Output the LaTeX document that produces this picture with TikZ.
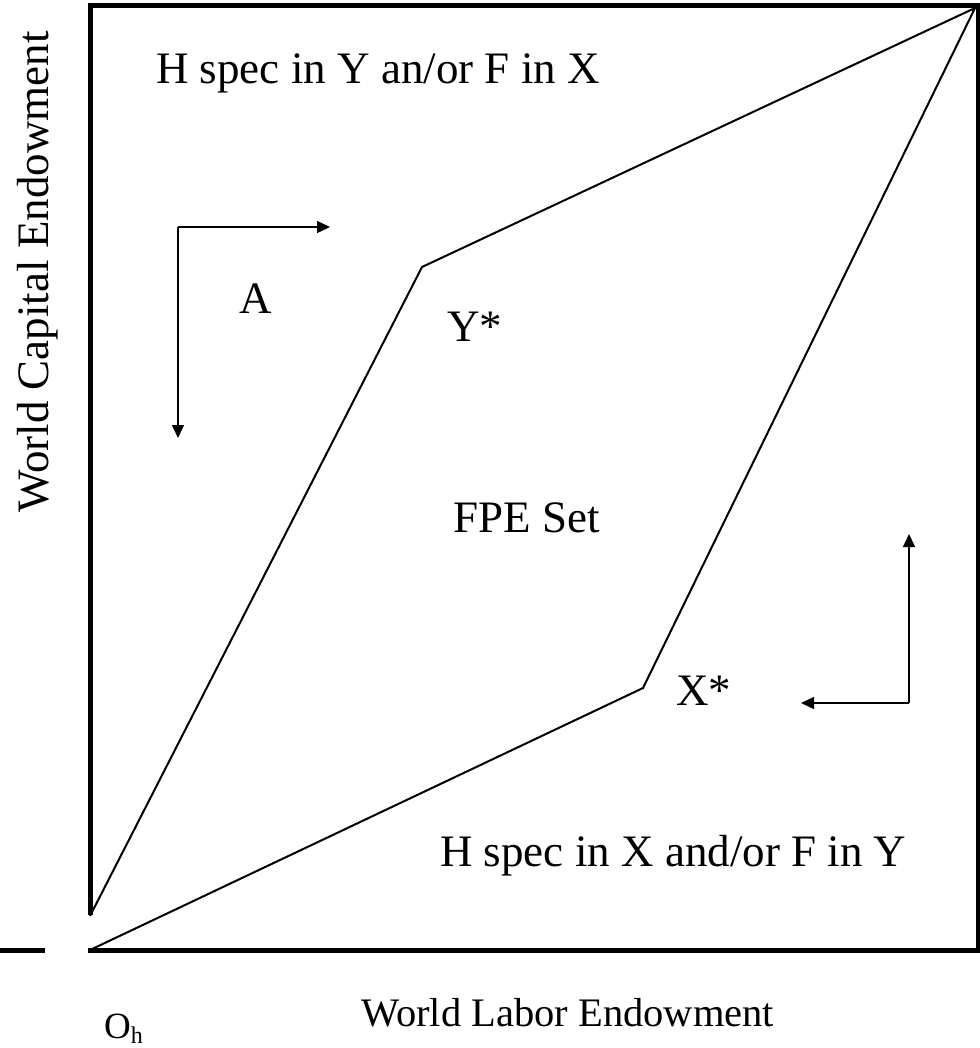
\documentclass[tikz,border=0pt]{standalone}
\usepackage{fontspec}
\setmainfont{Liberation Serif}
\usetikzlibrary{arrows.meta}
\begin{document}
\begin{tikzpicture}[x=1pt,y=-1pt,
  lbl/.style={font=\fontsize{45}{54}\selectfont, inner sep=0pt, anchor=base west},
  axislbl/.style={font=\fontsize{40.5}{48}\selectfont, inner sep=0pt, anchor=base west},
  frame/.style={line width=5pt, line join=miter},
  edgeline/.style={line width=2pt, line join=miter},
  arr/.style={line width=1.5pt, -{Triangle[length=13pt,width=12pt]}}]
\useasboundingbox (0,0) rectangle (979,1048);
% frame
\draw[frame] (90.5,915) -- (90.5,5.5) -- (978.5,5.5) -- (978.5,950.5) -- (88,950.5);
\draw[frame] (0,950.5) -- (45,950.5);
% FPE set boundaries
\coordinate (O) at (90,950);
\coordinate (TR) at (975,8);
\coordinate (Xk) at (643,688);
\coordinate (Yk) at (422,267);
\coordinate (Lend) at (90,916);
\draw[edgeline] (O) -- (Xk) -- (TR) -- (Yk) -- (Lend);
% arrows
\coordinate (c1) at (178,227);
\coordinate (c1r) at (330,227);
\coordinate (c1d) at (178,438);
\draw[arr] (c1) -- (c1r);
\draw[arr] (c1) -- (c1d);
\coordinate (c2) at (909,703);
\coordinate (c2u) at (909,534);
\coordinate (c2l) at (801,703);
\draw[arr] (c2) -- (c2u);
\draw[arr] (c2) -- (c2l);
% labels
\node[lbl] (tl) at (156,84) {H spec in Y an/or F in X};
\node[lbl] (a) at (239,313) {A};
\node[lbl] (ys) at (447,341) {Y*};
\node[lbl, anchor=base] (fpe) at (527,532) {FPE Set};
\node[lbl] (xs) at (676,705) {X*};
\node[lbl] (br) at (440,866) {H spec in X and/or F in Y};
\node[axislbl] (xl) at (361,1026) {World Labor Endowment};
\node[lbl, anchor=base, rotate=90] (yl) at (48,272) {World Capital Endowment};
\node[inner sep=0pt, anchor=base west, font=\fontsize{37}{44}\selectfont] (oh) at (104,1038) {O\raisebox{-0.16em}{\fontsize{24}{24}\selectfont h}};
\end{tikzpicture}
\end{document}
